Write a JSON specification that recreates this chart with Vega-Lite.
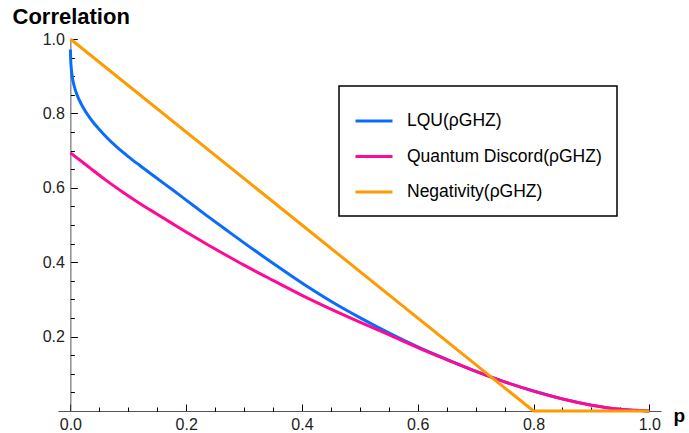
{
  "$schema": "https://vega.github.io/schema/vega-lite/v6.json",
  "width": 603,
  "height": 372,
  "autosize": {"type": "none"},
  "padding": {"left": 58, "top": 39, "right": 28, "bottom": 22},
  "background": "white",
  "config": {"view": {"stroke": null}, "font": "Liberation Sans"},
  "data": {
    "values": [
      {"s": "LQU(ρGHZ)", "p": 0, "v": 0.972},
      {"s": "LQU(ρGHZ)", "p": 0.0005, "v": 0.945},
      {"s": "LQU(ρGHZ)", "p": 0.0015, "v": 0.922},
      {"s": "LQU(ρGHZ)", "p": 0.003, "v": 0.901},
      {"s": "LQU(ρGHZ)", "p": 0.006, "v": 0.877},
      {"s": "LQU(ρGHZ)", "p": 0.01, "v": 0.856},
      {"s": "LQU(ρGHZ)", "p": 0.015, "v": 0.837},
      {"s": "LQU(ρGHZ)", "p": 0.022, "v": 0.816},
      {"s": "LQU(ρGHZ)", "p": 0.03, "v": 0.796},
      {"s": "LQU(ρGHZ)", "p": 0.04, "v": 0.775},
      {"s": "LQU(ρGHZ)", "p": 0.05, "v": 0.757},
      {"s": "LQU(ρGHZ)", "p": 0.065, "v": 0.732},
      {"s": "LQU(ρGHZ)", "p": 0.08, "v": 0.71},
      {"s": "LQU(ρGHZ)", "p": 0.1, "v": 0.684},
      {"s": "LQU(ρGHZ)", "p": 0.12, "v": 0.66},
      {"s": "LQU(ρGHZ)", "p": 0.15, "v": 0.625},
      {"s": "LQU(ρGHZ)", "p": 0.177, "v": 0.594},
      {"s": "LQU(ρGHZ)", "p": 0.2, "v": 0.567},
      {"s": "LQU(ρGHZ)", "p": 0.235, "v": 0.526},
      {"s": "LQU(ρGHZ)", "p": 0.27, "v": 0.486},
      {"s": "LQU(ρGHZ)", "p": 0.3, "v": 0.452},
      {"s": "LQU(ρGHZ)", "p": 0.35, "v": 0.397},
      {"s": "LQU(ρGHZ)", "p": 0.4, "v": 0.344},
      {"s": "LQU(ρGHZ)", "p": 0.45, "v": 0.295},
      {"s": "LQU(ρGHZ)", "p": 0.5, "v": 0.251},
      {"s": "LQU(ρGHZ)", "p": 0.55, "v": 0.21},
      {"s": "LQU(ρGHZ)", "p": 0.6, "v": 0.1725},
      {"s": "LQU(ρGHZ)", "p": 0.65, "v": 0.139},
      {"s": "LQU(ρGHZ)", "p": 0.7, "v": 0.107},
      {"s": "LQU(ρGHZ)", "p": 0.75, "v": 0.0785},
      {"s": "LQU(ρGHZ)", "p": 0.8, "v": 0.0536},
      {"s": "LQU(ρGHZ)", "p": 0.85, "v": 0.0325},
      {"s": "LQU(ρGHZ)", "p": 0.9, "v": 0.0158},
      {"s": "LQU(ρGHZ)", "p": 0.95, "v": 0.0045},
      {"s": "LQU(ρGHZ)", "p": 1.0, "v": 0},
      {"s": "Quantum Discord(ρGHZ)", "p": 0, "v": 0.694},
      {"s": "Quantum Discord(ρGHZ)", "p": 0.03, "v": 0.658},
      {"s": "Quantum Discord(ρGHZ)", "p": 0.06, "v": 0.622},
      {"s": "Quantum Discord(ρGHZ)", "p": 0.09, "v": 0.589},
      {"s": "Quantum Discord(ρGHZ)", "p": 0.12, "v": 0.558},
      {"s": "Quantum Discord(ρGHZ)", "p": 0.15, "v": 0.529},
      {"s": "Quantum Discord(ρGHZ)", "p": 0.177, "v": 0.503},
      {"s": "Quantum Discord(ρGHZ)", "p": 0.2, "v": 0.481},
      {"s": "Quantum Discord(ρGHZ)", "p": 0.235, "v": 0.449},
      {"s": "Quantum Discord(ρGHZ)", "p": 0.27, "v": 0.418},
      {"s": "Quantum Discord(ρGHZ)", "p": 0.3, "v": 0.392},
      {"s": "Quantum Discord(ρGHZ)", "p": 0.35, "v": 0.351},
      {"s": "Quantum Discord(ρGHZ)", "p": 0.4, "v": 0.311},
      {"s": "Quantum Discord(ρGHZ)", "p": 0.45, "v": 0.274},
      {"s": "Quantum Discord(ρGHZ)", "p": 0.5, "v": 0.239},
      {"s": "Quantum Discord(ρGHZ)", "p": 0.55, "v": 0.205},
      {"s": "Quantum Discord(ρGHZ)", "p": 0.6, "v": 0.1705},
      {"s": "Quantum Discord(ρGHZ)", "p": 0.65, "v": 0.138},
      {"s": "Quantum Discord(ρGHZ)", "p": 0.7, "v": 0.1066},
      {"s": "Quantum Discord(ρGHZ)", "p": 0.75, "v": 0.0783},
      {"s": "Quantum Discord(ρGHZ)", "p": 0.8, "v": 0.0535},
      {"s": "Quantum Discord(ρGHZ)", "p": 0.85, "v": 0.0324},
      {"s": "Quantum Discord(ρGHZ)", "p": 0.9, "v": 0.0157},
      {"s": "Quantum Discord(ρGHZ)", "p": 0.95, "v": 0.0044},
      {"s": "Quantum Discord(ρGHZ)", "p": 1.0, "v": 0},
      {"s": "Negativity(ρGHZ)", "p": 0, "v": 1.0},
      {"s": "Negativity(ρGHZ)", "p": 0.8, "v": 0},
      {"s": "Negativity(ρGHZ)", "p": 1.0, "v": 0}
    ]
  },
  "layer": [
    {
      "transform": [{"filter": "datum.s === 'LQU(ρGHZ)'"}],
      "mark": {"type": "line", "strokeWidth": 3, "clip": false, "interpolate": "monotone"},
      "encoding": {
        "x": {
          "field": "p", "type": "quantitative",
          "scale": {"domain": [-0.0214, 1.0202], "nice": false, "zero": false},
          "axis": {
            "orient": "bottom", "values": [0, 0.2, 0.4, 0.6, 0.8, 1.0], "format": ".1f",
            "grid": false, "tickSize": -7, "tickColor": "#000", "tickWidth": 1,
            "domainColor": "#555", "domainWidth": 1,
            "labelFontSize": 16, "labelColor": "#222", "labelPadding": 12.5, "labelFlush": false,
            "title": "p", "titleFontSize": 19, "titleFontWeight": "bold", "titleColor": "#000",
            "titleX": 615, "titleY": 10, "titleAlign": "left", "titleBaseline": "alphabetic"
          }
        },
        "y": {
          "field": "v", "type": "quantitative",
          "scale": {"domain": [0, 1], "nice": false},
          "axis": {
            "orient": "left", "offset": -12.39, "values": [0.2, 0.4, 0.6, 0.8, 1.0], "format": ".1f",
            "grid": false, "tickSize": -7, "tickColor": "#000", "tickWidth": 1,
            "domainColor": "#555", "domainWidth": 1,
            "labelFontSize": 16, "labelColor": "#222", "labelPadding": 13, "labelFlush": false,
            "title": "Correlation", "titleFontSize": 22, "titleFontWeight": "bold", "titleColor": "#000",
            "titleAngle": 0, "titleX": -58.4, "titleY": -16, "titleAlign": "left", "titleBaseline": "alphabetic"
          }
        },
        "color": {
          "field": "s", "type": "nominal",
          "scale": {
            "domain": ["LQU(ρGHZ)", "Quantum Discord(ρGHZ)", "Negativity(ρGHZ)"],
            "range": ["#0A6CFF", "#FF0A96", "#FF9A00"]
          },
          "legend": {
            "orient": "none", "legendX": 281, "legendY": 47, "title": null,
            "padding": 15, "strokeColor": "#000", "fillColor": "white",
            "symbolType": "stroke", "symbolSize": 1369, "symbolStrokeWidth": 3,
            "labelFontSize": 17.5, "labelColor": "#000", "labelOffset": 13, "labelLimit": 400,
            "rowPadding": 6.5,
            "encode": {"legend": {"update": {"strokeWidth": {"value": 1.5}}}}
          }
        }
      }
    },
    {
      "transform": [{"filter": "datum.s === 'Quantum Discord(ρGHZ)'"}],
      "mark": {"type": "line", "strokeWidth": 3, "clip": false, "interpolate": "monotone"},
      "encoding": {
        "x": {"field": "p", "type": "quantitative", "axis": null},
        "y": {"field": "v", "type": "quantitative", "axis": null},
        "color": {"field": "s", "type": "nominal"}
      }
    },
    {
      "transform": [{"filter": "datum.s === 'Negativity(ρGHZ)'"}],
      "mark": {"type": "line", "strokeWidth": 3, "clip": false},
      "encoding": {
        "x": {"field": "p", "type": "quantitative", "axis": null},
        "y": {"field": "v", "type": "quantitative", "axis": null},
        "color": {"field": "s", "type": "nominal"}
      }
    },
    {
      "transform": [{"filter": "datum.s === 'Negativity(ρGHZ)'"}],
      "mark": {"type": "point", "opacity": 0},
      "encoding": {
        "x": {
          "field": "p", "type": "quantitative",
          "axis": {
            "orient": "bottom", "values": [0.05, 0.1, 0.15, 0.25, 0.3, 0.35, 0.45, 0.5, 0.55, 0.65, 0.7, 0.75, 0.85, 0.9, 0.95],
            "labels": false, "domain": false, "grid": false, "title": null,
            "tickSize": -4, "tickColor": "#000", "tickWidth": 1
          }
        },
        "y": {
          "field": "v", "type": "quantitative",
          "axis": {
            "orient": "left", "offset": -12.39, "values": [0.05, 0.1, 0.15, 0.25, 0.3, 0.35, 0.45, 0.5, 0.55, 0.65, 0.7, 0.75, 0.85, 0.9, 0.95],
            "labels": false, "domain": false, "grid": false, "title": null,
            "tickSize": -4, "tickColor": "#000", "tickWidth": 1
          }
        }
      }
    }
  ],
  "resolve": {"axis": {"x": "independent", "y": "independent"}}
}
